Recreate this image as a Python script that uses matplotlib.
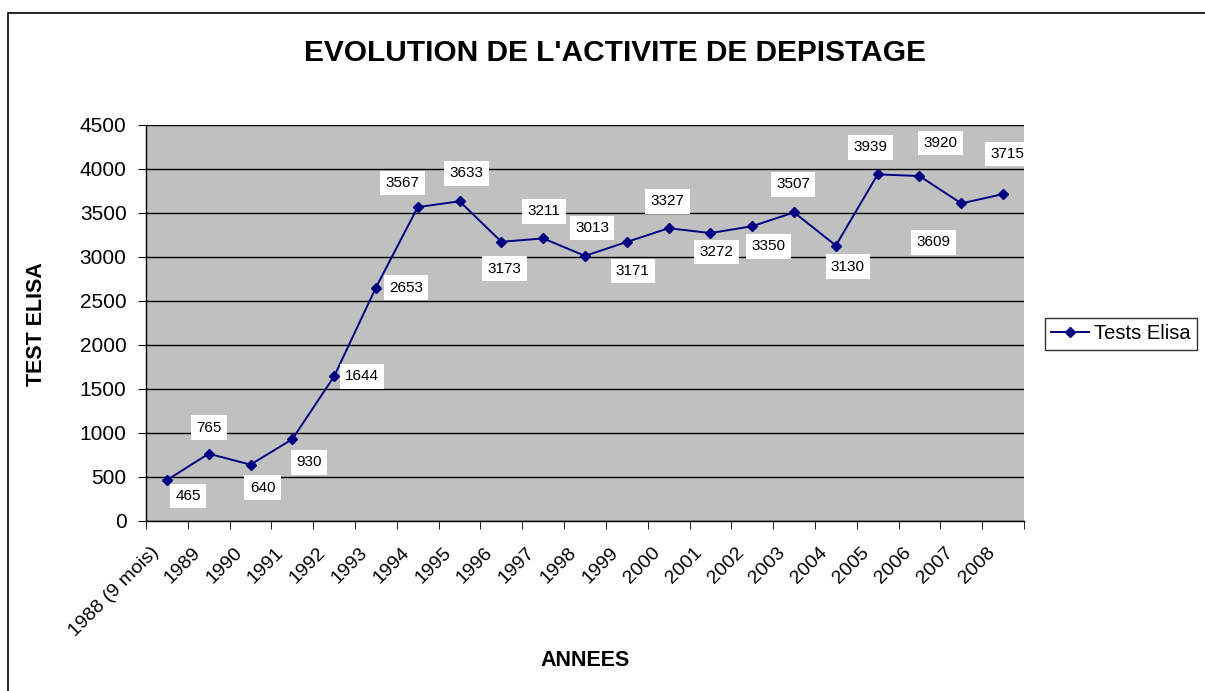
import matplotlib
matplotlib.use("Agg")
import matplotlib.pyplot as plt
from matplotlib.patches import Rectangle
from matplotlib.transforms import ScaledTranslation
import numpy as np

plt.rcParams['font.family'] = ['Liberation Sans', 'DejaVu Sans']

categories = ["1988 (9 mois)", "1989", "1990", "1991", "1992", "1993", "1994", "1995",
              "1996", "1997", "1998", "1999", "2000", "2001", "2002", "2003", "2004",
              "2005", "2006", "2007", "2008"]
values = [465, 765, 640, 930, 1644, 2653, 3567, 3633, 3173, 3211, 3013, 3171, 3327,
          3272, 3350, 3507, 3130, 3939, 3920, 3609, 3715]
yticks = [0, 500, 1000, 1500, 2000, 2500, 3000, 3500, 4000, 4500]

# label offsets in pixels (dx, dy with dy positive = down)
label_offsets = [(21, 16), (0, -26), (12, 23), (17, 23), (28, 0), (30, 0), (-15, -24),
                 (7, -28), (3, 27), (1, -27), (7, -28), (6, 29), (-1, -27), (6, 19),
                 (16, 20), (-1, -28), (12, 21), (-7, -27), (21, -33), (-28, 39), (4, -40)]

W, H = 1205, 691
fig = plt.figure(figsize=(W / 100, H / 100), dpi=100)
fig.patch.set_facecolor('white')

# outer chart border
fig.patches.append(Rectangle((8 / W, -0.1), 1.2, 1 - 13 / H + 0.1, transform=fig.transFigure,
                             fill=False, edgecolor='black', linewidth=1.2, clip_on=False))

ax = fig.add_axes([146 / W, 1 - 521 / H, (1024 - 146) / W, (521 - 125) / H])
ax.set_facecolor('#C0C0C0')
x = np.arange(len(categories))
line, = ax.plot(x, values, color='#000080', marker='D', markersize=5.5, linewidth=1.4,
                label='Tests Elisa')

for xi, v, (dx, dy) in zip(x, values, label_offsets):
    ax.annotate(str(v), (xi, v), xytext=(dx, -dy), textcoords='offset pixels',
                ha='center', va='center', fontsize=11, color='black',
                bbox=dict(boxstyle='square,pad=0.35', facecolor='white', edgecolor='none'))

ax.set_xlim(-0.5, len(categories) - 0.5)
ax.set_ylim(0, 4500)
ax.set_yticks(yticks)
ax.set_yticklabels([str(t) for t in yticks], fontsize=15)
ax.yaxis.grid(True, color='black', linewidth=1)
ax.set_axisbelow(True)

ax.set_xticks(x)
ax.set_xticklabels(categories, rotation=45, ha='right', va='center', rotation_mode='anchor',
                   fontsize=14)
ax.tick_params(axis='x', which='major', length=0, pad=0)
off = ScaledTranslation(-11 / 100, -29 / 100, fig.dpi_scale_trans)
for lbl in ax.get_xticklabels():
    lbl.set_transform(lbl.get_transform() + off)
ax.set_xticks(np.arange(-0.5, len(categories)), minor=True)
ax.tick_params(axis='x', which='minor', length=6, direction='out', color='black')
ax.tick_params(axis='y', length=6, direction='out', color='black', pad=8)

for s in ['top', 'right']:
    ax.spines[s].set_visible(False)
ax.spines['left'].set_color('black')
ax.spines['bottom'].set_color('black')
ax.spines['left'].set_linewidth(1)
ax.spines['bottom'].set_linewidth(1)

fig.text(615 / W, 1 - 53 / H, "EVOLUTION DE L'ACTIVITE DE DEPISTAGE", ha='center', va='center',
         fontsize=21.5, fontweight='bold')
fig.text(37 / W, 1 - 324 / H, "TEST ELISA", ha='center', va='center', rotation=90,
         fontsize=15.5, fontweight='bold')
fig.text(585 / W, 1 - 661 / H, "ANNEES", ha='center', va='center', fontsize=15.5,
         fontweight='bold')

leg = fig.legend(handles=[line], labels=['Tests Elisa'], loc='center left',
                 bbox_to_anchor=(1045 / W, 1 - 334 / H), fontsize=14.5, frameon=True,
                 fancybox=False, edgecolor='black', borderpad=0.3, handlelength=1.9,
                 handletextpad=0.25, borderaxespad=0)
leg.get_frame().set_linewidth(1)

fig.savefig('out.png', dpi=100)
